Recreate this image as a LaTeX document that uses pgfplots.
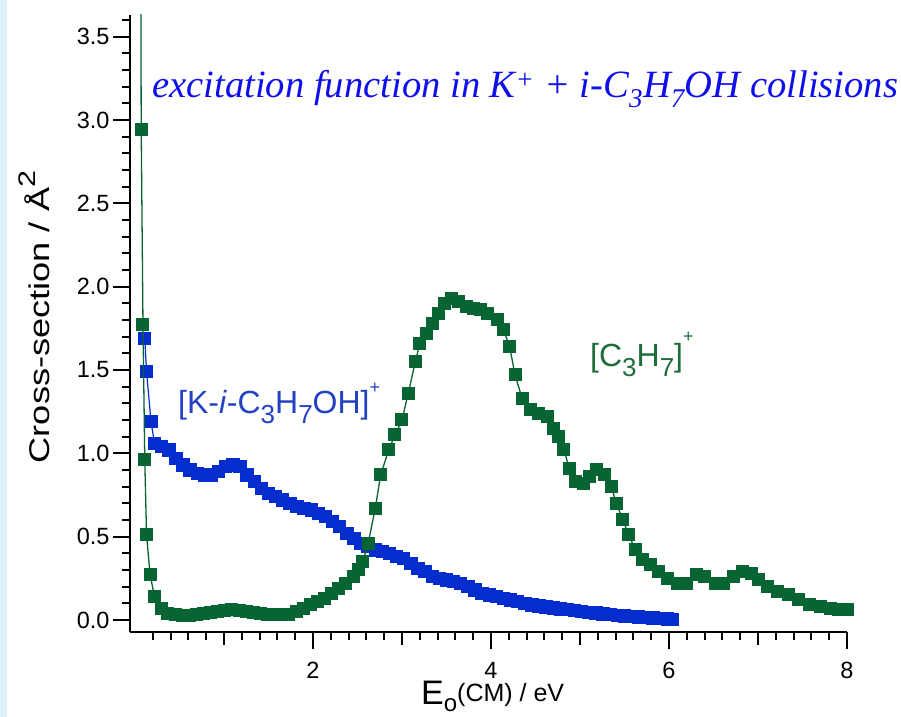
\documentclass[border=0pt]{standalone}
\usepackage{fontspec}
\setmainfont{Liberation Sans}
\newfontfamily\timesfont{Liberation Serif}
\usepackage{graphicx}
\usepackage{pgfplots}
\pgfplotsset{compat=1.18}
\definecolor{cgreen}{RGB}{8,100,50}
\definecolor{cblue}{RGB}{5,45,205}
\definecolor{ctitle}{RGB}{15,15,235}
\definecolor{clabblue}{RGB}{35,65,195}
\definecolor{clabgreen}{RGB}{30,110,60}
\definecolor{cstripe}{RGB}{222,243,249}
\newcommand\lsub[1]{\raisebox{-10bp}{\fontsize{26bp}{26bp}\selectfont #1}}

\pgfplotstableread{
x y
0.11 1.69
0.13 1.49
0.18 1.19
0.22 1.06
0.30 1.04
0.38 1.02
0.46 0.97
0.54 0.93
0.62 0.90
0.70 0.88
0.78 0.87
0.86 0.87
0.94 0.89
1.02 0.92
1.10 0.93
1.18 0.92
1.26 0.87
1.34 0.83
1.42 0.79
1.50 0.76
1.58 0.74
1.66 0.72
1.74 0.70
1.82 0.68
1.90 0.67
1.98 0.66
2.06 0.64
2.14 0.62
2.22 0.59
2.30 0.56
2.38 0.52
2.46 0.49
2.54 0.46
2.62 0.44
2.70 0.42
2.78 0.41
2.86 0.40
2.94 0.38
3.02 0.37
3.10 0.34
3.18 0.31
3.26 0.29
3.34 0.26
3.42 0.25
3.50 0.24
3.58 0.23
3.66 0.22
3.74 0.20
3.82 0.18
3.90 0.16
3.98 0.15
4.06 0.14
4.14 0.13
4.22 0.12
4.30 0.11
4.38 0.10
4.46 0.09
4.54 0.085
4.62 0.078
4.70 0.072
4.78 0.067
4.86 0.062
4.94 0.056
5.02 0.050
5.10 0.046
5.18 0.042
5.26 0.037
5.34 0.032
5.42 0.027
5.50 0.024
5.58 0.021
5.66 0.018
5.74 0.015
5.82 0.012
5.90 0.009
5.98 0.006
6.04 0.003
}\bluedata

\pgfplotstableread{
x y
0.06 5.00
0.07 2.94
0.09 1.77
0.11 0.96
0.13 0.51
0.17 0.27
0.22 0.14
0.30 0.07
0.37 0.04
0.45 0.030
0.53 0.025
0.61 0.028
0.69 0.032
0.77 0.037
0.85 0.043
0.93 0.050
1.01 0.058
1.09 0.062
1.17 0.058
1.25 0.050
1.33 0.043
1.41 0.038
1.49 0.034
1.57 0.030
1.65 0.030
1.73 0.035
1.81 0.050
1.89 0.070
1.97 0.090
2.05 0.110
2.13 0.130
2.21 0.160
2.29 0.190
2.37 0.220
2.45 0.260
2.51 0.300
2.56 0.350
2.62 0.46
2.70 0.67
2.76 0.87
2.85 1.02
2.92 1.11
3.00 1.20
3.07 1.36
3.15 1.55
3.20 1.66
3.27 1.72
3.34 1.78
3.41 1.84
3.48 1.90
3.56 1.93
3.64 1.91
3.72 1.88
3.80 1.87
3.88 1.86
3.96 1.84
4.07 1.80
4.14 1.74
4.21 1.64
4.27 1.47
4.35 1.33
4.44 1.26
4.53 1.24
4.63 1.22
4.70 1.15
4.76 1.10
4.82 1.02
4.88 0.91
4.95 0.83
5.04 0.82
5.11 0.86
5.19 0.90
5.27 0.87
5.35 0.80
5.41 0.70
5.48 0.60
5.55 0.51
5.62 0.42
5.70 0.36
5.79 0.33
5.88 0.29
5.98 0.25
6.09 0.22
6.20 0.22
6.31 0.27
6.40 0.26
6.52 0.22
6.61 0.22
6.72 0.26
6.83 0.29
6.93 0.28
7.01 0.24
7.11 0.20
7.22 0.17
7.34 0.15
7.45 0.12
7.58 0.09
7.70 0.08
7.81 0.07
7.90 0.06
8.00 0.06
}\greendata

\begin{document}
\begin{tikzpicture}
\useasboundingbox (-130bp,-85bp) rectangle (771bp,632bp);
\fill[white] (-130bp,-85bp) rectangle (771bp,632bp);
\fill[cstripe] (-130bp,-85bp) rectangle (-123bp,632bp);
\begin{axis}[
  scale only axis, width=717bp, height=617bp,
  at={(0,0)}, anchor=south west,
  xmin=-0.056, xmax=8.0, ymin=-0.072, ymax=3.63,
  axis x line*=bottom, axis y line*=left,
  axis line style={-, line width=2.2bp, black},
  tick align=outside,
  major tick length=17bp, minor tick length=8bp,
  major tick style={black, line width=2.1bp},
  minor tick style={black, line width=2.1bp},
  xtick={2,4,6,8},
  minor xtick={0.2,0.4,0.6,0.8,1.2,1.4,1.6,1.8,2.2,2.4,2.6,2.8,3.2,3.4,3.6,3.8,4.2,4.4,4.6,4.8,5.2,5.4,5.6,5.8,6.2,6.4,6.6,6.8,7.2,7.4,7.6,7.8},
  extra x ticks={1,3,5,7}, extra x tick labels={,,,},
  extra x tick style={major tick length=13bp},
  ytick={0,0.5,1,1.5,2,2.5,3,3.5},
  minor ytick={0.1,0.2,0.3,0.4,0.6,0.7,0.8,0.9,1.1,1.2,1.3,1.4,1.6,1.7,1.8,1.9,2.1,2.2,2.3,2.4,2.6,2.7,2.8,2.9,3.1,3.2,3.3,3.4,3.6},
  /pgf/number format/assume math mode=true,
  tick label style={font=\fontsize{23.5bp}{25bp}\selectfont, black},
  xticklabel style={yshift=-10bp},
  yticklabel style={/pgf/number format/fixed, /pgf/number format/fixed zerofill, /pgf/number format/precision=1},
  clip mode=individual,
]
\addplot[cblue, line width=1.2bp, mark=square*, mark size=6.2bp, mark options={fill=cblue, draw=cblue, line width=0pt}] table {\bluedata};
\addplot[cgreen, line width=1.3bp, mark=square*, mark size=6bp, mark options={fill=cgreen, draw=cgreen, line width=0pt}] table {\greendata};
\end{axis}
\node[anchor=base west, inner sep=0, text=ctitle, font=\timesfont\itshape\fontsize{38.6bp}{40bp}\selectfont] at (22bp,534bp)
  {excitation function in K\textsuperscript{+} + i-C\textsubscript{3}H\textsubscript{7}OH collisions};
\node[anchor=base west, inner sep=0, text=clabblue, font=\fontsize{32bp}{34bp}\selectfont] at (48bp,218bp)
  {[K-\textit{i}-C\lsub{3}H\lsub{7}OH]\raisebox{20bp}{\fontsize{18bp}{18bp}\selectfont +}};
\node[anchor=base west, inner sep=0, text=clabgreen, font=\fontsize{32bp}{34bp}\selectfont] at (460bp,265bp)
  {[C\lsub{3}H\lsub{7}]\raisebox{24bp}{\fontsize{18bp}{18bp}\selectfont +}};
\node[rotate=90, inner sep=0, font=\fontsize{28.5bp}{30bp}\selectfont] at (-96bp,315bp)
  {\scalebox{1.27}[1]{Cross-section / Å\raisebox{14bp}{\fontsize{24bp}{24bp}\selectfont 2}}};
\node[anchor=base west, inner sep=0] at (291bp,-72bp)
  {\fontsize{34bp}{34bp}\selectfont E\raisebox{-7bp}{\fontsize{24bp}{24bp}\selectfont o}\raisebox{3bp}{\fontsize{25bp}{25bp}\selectfont (CM) / eV}};
\end{tikzpicture}
\end{document}
